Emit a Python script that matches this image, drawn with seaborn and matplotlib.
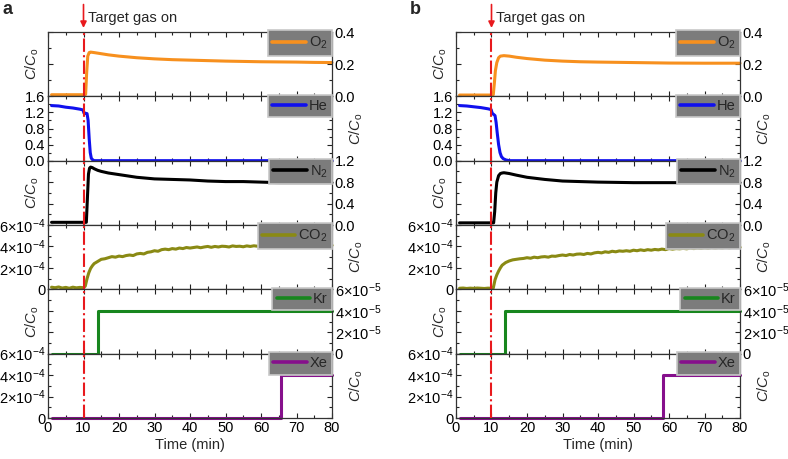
import numpy as np
import matplotlib
matplotlib.use('Agg')
import matplotlib.pyplot as plt
from matplotlib.ticker import MultipleLocator, FixedLocator, FixedFormatter
import seaborn as sns

# ---------------- data ----------------
gas_names = ['O$_2$', 'He', 'N$_2$', 'CO$_2$', 'Kr', 'Xe']
gas_colors = ['#f7901e', '#1010ee', '#000000', '#8a8a14', '#18861e', '#86108c']

# panel a
t_o2_a = [1, 5, 10, 10.6, 10.9, 11.2, 11.6, 12, 13, 15, 17, 20, 25, 30, 35, 40, 45, 50, 55, 60, 65, 70, 75, 80]
o2_a = [0.01, 0.01, 0.01, 0.012, 0.15, 0.25, 0.272, 0.275, 0.272, 0.265, 0.258, 0.25, 0.24, 0.233, 0.228,
        0.225, 0.222, 0.219, 0.217, 0.215, 0.214, 0.213, 0.211, 0.21]
t_he_a = [1, 3, 5, 7, 9, 9.9, 10.1, 10.5, 11, 11.3, 11.6, 11.9, 12.2, 12.6, 13, 80]
he_a = [1.37, 1.36, 1.33, 1.31, 1.28, 1.26, 1.19, 1.18, 1.17, 1.0, 0.55, 0.2, 0.06, 0.02, 0.0, 0.0]
t_n2_a = [1, 5, 10, 10.8, 11.1, 11.4, 11.7, 12, 12.5, 13, 14, 15, 17, 20, 25, 30, 35, 40, 45, 50, 55, 60,
          65, 70, 75, 80]
n2_a = [0.05, 0.05, 0.05, 0.05, 0.5, 0.95, 1.06, 1.08, 1.07, 1.05, 1.02, 1.0, 0.97, 0.94, 0.89, 0.86, 0.85,
        0.84, 0.82, 0.81, 0.81, 0.80, 0.79, 0.79, 0.79, 0.79]
t_co2 = [1, 2, 3, 4, 5, 6, 7, 8, 9, 10, 10.5, 11, 11.5, 12, 12.5, 13] + list(range(14, 81))
# CO2 in units of 1e-4
co2_a = [0.20, 0.15, 0.22, 0.12, 0.18, 0.10, 0.20, 0.14, 0.18, 0.15, 0.30, 1.00, 1.55, 1.95, 2.20, 2.40,
         2.60, 2.80, 2.85, 2.95, 3.05, 3.00, 3.10, 3.05, 3.15, 3.20, 3.15, 3.30, 3.35, 3.30, 3.45, 3.50,
         3.60, 3.55, 3.70, 3.75, 3.70, 3.80, 3.75, 3.85, 3.80, 3.90, 3.85, 3.90, 3.95, 3.88, 3.95, 4.00,
         3.92, 4.00, 3.95, 4.02, 4.00, 3.95, 4.05, 4.00, 4.02, 3.97, 4.05, 4.00, 4.06, 4.02, 4.08, 4.03,
         4.07, 4.02, 4.10, 4.05, 4.08, 4.03, 4.10, 4.06, 4.10, 4.05, 4.12, 4.08, 4.10, 4.06, 4.12, 4.08,
         4.10, 4.07, 4.10]
t_kr_a = [1, 14, 14, 80]
kr_a = [0, 0, 4e-5, 4e-5]
t_xe_a = [1, 65.5, 65.5, 80]
xe_a = [0, 0, 4e-4, 4e-4]

# panel b
t_o2_b = [1, 5, 10, 10.5, 10.8, 11.1, 11.5, 12, 12.5, 13.5, 15, 17, 20, 25, 30, 35, 40, 50, 60, 70, 80]
o2_b = [0.008, 0.008, 0.008, 0.01, 0.08, 0.16, 0.21, 0.24, 0.25, 0.253, 0.25, 0.243, 0.235, 0.225, 0.219,
        0.215, 0.213, 0.21, 0.207, 0.206, 0.206]
t_he_b = [1, 3, 5, 7, 9, 9.9, 10.2, 10.6, 11, 11.3, 11.6, 12, 12.4, 12.8, 13.3, 14, 15, 80]
he_b = [1.37, 1.36, 1.34, 1.32, 1.29, 1.27, 1.18, 1.15, 1.12, 0.95, 0.7, 0.4, 0.2, 0.1, 0.05, 0.02, 0.0, 0.0]
t_n2_b = [1, 5, 10, 10.6, 10.9, 11.2, 11.5, 12, 12.5, 13, 13.5, 14, 15, 17, 20, 25, 30, 35, 40, 50, 60, 70, 80]
n2_b = [0.04, 0.04, 0.04, 0.04, 0.25, 0.6, 0.8, 0.92, 0.96, 0.97, 0.975, 0.97, 0.96, 0.93, 0.89, 0.85, 0.82,
        0.81, 0.80, 0.79, 0.79, 0.79, 0.79]
co2_b = [0.10, 0.12, 0.08, 0.11, 0.09, 0.12, 0.10, 0.08, 0.11, 0.10, 0.12, 0.90, 1.35, 1.70, 2.00, 2.25,
         2.50, 2.65, 2.75, 2.80, 2.85, 2.88, 2.95, 2.90, 3.00, 2.95, 3.02, 3.05, 3.00, 3.10, 3.08, 3.15,
         3.20, 3.15, 3.25, 3.20, 3.28, 3.30, 3.25, 3.35, 3.30, 3.40, 3.45, 3.40, 3.50, 3.45, 3.55, 3.50,
         3.58, 3.55, 3.60, 3.55, 3.65, 3.60, 3.68, 3.62, 3.70, 3.65, 3.72, 3.68, 3.75, 3.70, 3.80, 3.75,
         3.80, 3.78, 3.82, 3.78, 3.85, 3.80, 3.86, 3.82, 3.88, 3.84, 3.90, 3.86, 3.90, 3.87, 3.92, 3.88,
         3.92, 3.90, 3.92]
t_kr_b = [1, 13.8, 13.8, 80]
kr_b = [0, 0, 4e-5, 4e-5]
t_xe_b = [1, 58.2, 58.2, 80]
xe_b = [0, 0, 4e-4, 4e-4]

panels = {
    'a': [(t_o2_a, o2_a), (t_he_a, he_a), (t_n2_a, n2_a), (t_co2, np.array(co2_a) * 1e-4),
          (t_kr_a, kr_a), (t_xe_a, xe_a)],
    'b': [(t_o2_b, o2_b), (t_he_b, he_b), (t_n2_b, n2_b), (t_co2, np.array(co2_b) * 1e-4),
          (t_kr_b, kr_b), (t_xe_b, xe_b)],
}

# y axes of the six rows
y_max = [0.4, 1.6, 1.2, 6e-4, 6e-5, 6e-4]
y_ticks = [[0, 0.2, 0.4], [0, 0.4, 0.8, 1.2, 1.6], [0, 0.4, 0.8, 1.2],
           [0, 2e-4, 4e-4, 6e-4], [0, 2e-5, 4e-5, 6e-5], [0, 2e-4, 4e-4, 6e-4]]
sci4 = ['0', r'$2{\times}10^{-4}$', r'$4{\times}10^{-4}$', r'$6{\times}10^{-4}$']
sci5 = ['0', r'$2{\times}10^{-5}$', r'$4{\times}10^{-5}$', r'$6{\times}10^{-5}$']
y_ticklabels = [['0.0', '0.2', '0.4'], ['0.0', '0.4', '0.8', '1.2', '1.6'], ['0.0', '0.4', '0.8', '1.2'],
                sci4, sci5, sci4]
label_side = ['right', 'left', 'right', 'left', 'right', 'left']
gas_on = 10

# ---------------- style ----------------
sns.set_style('ticks')
plt.rcParams['font.family'] = ['Liberation Sans', 'DejaVu Sans']
plt.rcParams['mathtext.fontset'] = 'custom'
plt.rcParams['mathtext.rm'] = 'Liberation Sans'
plt.rcParams['mathtext.it'] = 'Liberation Sans:italic'
fs = 10.5

fig = plt.figure(figsize=(7.88, 4.59), dpi=100)
lefts = {'a': 48 / 788, 'b': 456 / 788}
width = 284 / 788

for key, series in panels.items():
    gs = fig.add_gridspec(6, 1, left=lefts[key], right=lefts[key] + width,
                          top=1 - 32 / 459, bottom=1 - 418 / 459, hspace=0)
    axes = []
    for i, (tt, yy) in enumerate(series):
        ax = fig.add_subplot(gs[i], sharex=axes[0] if axes else None)
        axes.append(ax)
        sns.lineplot(x=tt, y=yy, ax=ax, color=gas_colors[i], lw=2.2, estimator=None, sort=False,
                     label=gas_names[i], clip_on=False)
        ax.set_xlim(0, 80)
        ax.set_ylim(0, y_max[i])
        ax.yaxis.set_major_locator(FixedLocator(y_ticks[i]))
        ax.yaxis.set_major_formatter(FixedFormatter(y_ticklabels[i]))
        ax.yaxis.set_minor_locator(MultipleLocator(y_ticks[i][1] / 2))
        ax.xaxis.set_major_locator(MultipleLocator(10))
        ax.xaxis.set_minor_locator(MultipleLocator(5))
        on_right = label_side[i] == 'right'
        ax.tick_params(axis='both', which='both', direction='in', top=True, bottom=True,
                       left=True, right=True, labelsize=fs, pad=2, colors='#222222',
                       labelcolor='black')
        ax.tick_params(axis='both', which='major', length=3.5, width=0.8)
        ax.tick_params(axis='both', which='minor', length=2.2, width=0.8)
        ax.tick_params(axis='y', labelleft=not on_right, labelright=on_right)
        ax.tick_params(axis='x', labelbottom=(i == 5))
        ax.set_ylabel(r'$C/C_{\rm o}$', fontsize=fs)
        ax.yaxis.set_label_coords(1.115 if not on_right else -0.025, 0.5)
        for sp in ax.spines.values():
            sp.set_color('#333333')
            sp.set_linewidth(0.9)
        ax.axvline(gas_on, color='#e8191d', ls='-.', lw=1.5, zorder=5)
        leg = ax.legend(loc='upper right', bbox_to_anchor=(1, 1.025), borderaxespad=0, frameon=True,
                        fancybox=False, facecolor='#7c7c7c', edgecolor='#c8c8c8', framealpha=1,
                        fontsize=fs, handlelength=2.3, handletextpad=0.2, borderpad=0.3)
        leg.get_frame().set_linewidth(1.2)
        leg.set_zorder(10)
        for h in leg.get_lines():
            h.set_linewidth(2.6)
    axes[-1].set_xlabel('Time (min)', fontsize=fs, labelpad=2)

    top = axes[0]
    top.annotate('', xy=(gas_on, 1.02), xycoords=('data', 'axes fraction'),
                 xytext=(gas_on, 1.47), textcoords=('data', 'axes fraction'),
                 arrowprops=dict(arrowstyle='-|>', color='#e8191d', lw=1.2, mutation_scale=9),
                 annotation_clip=False)
    top.annotate('Target gas on', xy=(gas_on, 1.21), xycoords=('data', 'axes fraction'),
                 xytext=(3, 0), textcoords='offset points', ha='left', va='center', fontsize=fs,
                 annotation_clip=False)
    fig.text(lefts[key] - 46 / 788, 1 - 10 / 459, key, fontsize=13, fontweight='bold',
             ha='left', va='center')

fig.savefig('out.png', dpi=100)
